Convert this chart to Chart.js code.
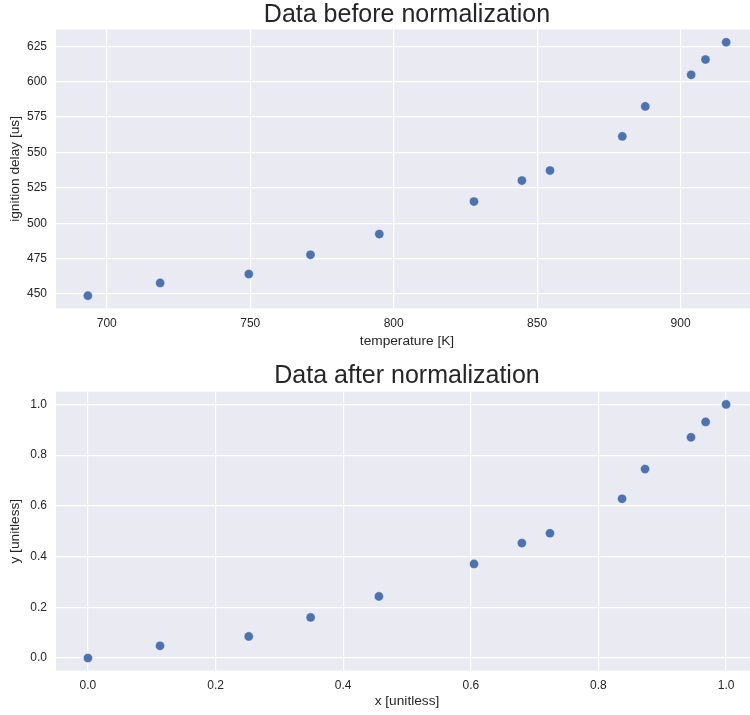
<!DOCTYPE html>
<html>
<head>
<meta charset="utf-8">
<script src="https://cdn.jsdelivr.net/npm/chart.js@4"></script>
<style>
  html, body { margin: 0; padding: 0; background: #ffffff; overflow: hidden; }
  #wrap { position: relative; width: 750px; height: 715px; overflow: hidden; }
  canvas { position: absolute; left: 0; display: block; }
  #rawChart { top: 0; }
  #normChart { top: 360px; }
</style>
</head>
<body>
<div id="wrap">
  <canvas id="rawChart" width="760" height="360"></canvas>
  <canvas id="normChart" width="760" height="355"></canvas>
</div>
<script>
// Measured ignition delay vs. temperature
const temperatureK = [693.4, 718.6, 749.5, 771.0, 795.0, 828.0, 844.7, 854.5, 879.7, 887.7, 903.7, 908.7, 915.9];
const ignitionDelayUs = [448.8, 457.8, 464.1, 477.7, 492.3, 515.3, 530.1, 537.2, 561.3, 582.5, 604.8, 615.6, 627.8];

// Same points after min-max scaling
const xUnitless = [0.0, 0.113, 0.252, 0.349, 0.456, 0.605, 0.680, 0.724, 0.837, 0.873, 0.945, 0.968, 1.0];
const yUnitless = [0.0, 0.048, 0.085, 0.160, 0.243, 0.371, 0.453, 0.492, 0.628, 0.745, 0.870, 0.931, 1.0];

// Tick values
const rawXTicks = [700, 750, 800, 850, 900];
const rawYTicks = [450, 475, 500, 525, 550, 575, 600, 625];
const normXTicks = [0.0, 0.2, 0.4, 0.6, 0.8, 1.0];
const normYTicks = [0.0, 0.2, 0.4, 0.6, 0.8, 1.0];

const FONT = '"Liberation Sans", Arial, sans-serif';
const TEXT = '#262626';
const POINT = '#4C72B0';

// Shade the plotting area like a seaborn "darkgrid" axes
const panelBackground = {
  id: 'panelBackground',
  beforeDraw(chart) {
    const { ctx, chartArea: a } = chart;
    ctx.save();
    ctx.fillStyle = '#EAEAF2';
    ctx.fillRect(a.left, a.top, a.right - a.left, a.bottom - a.top);
    ctx.restore();
  }
};

function makeChart(id, opts) {
  const pts = opts.xs.map((x, i) => ({ x: x, y: opts.ys[i] }));
  const fixedTicks = (vals) => (scale) => { scale.ticks = vals.map(v => ({ value: v })); };
  return new Chart(document.getElementById(id), {
    type: 'scatter',
    data: {
      datasets: [{
        data: pts,
        backgroundColor: POINT,
        borderColor: 'rgba(255,255,255,0.55)',
        borderWidth: 0.7,
        pointRadius: 4.6,
        pointHoverRadius: 4.6
      }]
    },
    plugins: [panelBackground],
    options: {
      responsive: false,
      animation: false,
      devicePixelRatio: 1,
      layout: { autoPadding: false, padding: { left: 0, right: 2, top: 0, bottom: 0 } },
      plugins: {
        legend: { display: false },
        tooltip: { enabled: false },
        title: {
          display: true,
          text: opts.title,
          color: TEXT,
          fullSize: false,
          font: { family: FONT, size: 25, weight: 'normal', lineHeight: 1.12 },
          padding: opts.titlePad
        }
      },
      scales: {
        x: {
          type: 'linear',
          min: opts.xMin, max: opts.xMax,
          afterBuildTicks: fixedTicks(opts.xTicks),
          afterFit: (s) => {
            s.height = opts.xAxisH;
            s.paddingLeft = 0;
            s.paddingRight = 0;
          },
          grid: { color: '#ffffff', lineWidth: 1.2, drawTicks: false },
          border: { display: false },
          ticks: {
            color: TEXT, padding: opts.xTickPad,
            font: { family: FONT, size: 12 },
            callback: opts.xFmt
          },
          title: {
            display: true, text: opts.xLabel, color: TEXT,
            font: { family: FONT, size: 13.7 },
            padding: { top: 0, bottom: opts.xTitlePad }
          }
        },
        y: {
          type: 'linear',
          min: opts.yMin, max: opts.yMax,
          afterBuildTicks: fixedTicks(opts.yTicks),
          afterFit: (s) => {
            s.width = 56;
            s.paddingTop = 0;
            s.paddingBottom = 0;
          },
          grid: { color: '#ffffff', lineWidth: 1.2, drawTicks: false },
          border: { display: false },
          ticks: {
            color: TEXT, padding: 9,
            font: { family: FONT, size: 12 },
            callback: opts.yFmt
          },
          title: {
            display: true, text: opts.yLabel, color: TEXT,
            font: { family: FONT, size: 13.7 },
            padding: { top: 7, bottom: 0 }
          }
        }
      }
    }
  });
}

makeChart('rawChart', {
  title: 'Data before normalization',
  titlePad: { top: 1.5, bottom: 0 },
  xs: temperatureK, ys: ignitionDelayUs,
  xMin: 682.3, xMax: 927.0, yMin: 439.9, yMax: 636.8,
  xTicks: rawXTicks, yTicks: rawYTicks,
  xFmt: (v) => String(v), yFmt: (v) => String(v),
  xLabel: 'temperature [K]', yLabel: 'ignition delay [us]',
  xAxisH: 51.7, xTickPad: 8, xTitlePad: 11
});

makeChart('normChart', {
  title: 'Data after normalization',
  titlePad: { top: 2.5, bottom: 1.2 },
  xs: xUnitless, ys: yUnitless,
  xMin: -0.05, xMax: 1.05, yMin: -0.05, yMax: 1.05,
  xTicks: normXTicks, yTicks: normYTicks,
  xFmt: (v) => Number(v).toFixed(1), yFmt: (v) => Number(v).toFixed(1),
  xLabel: 'x [unitless]', yLabel: 'y [unitless]',
  xAxisH: 44.3, xTickPad: 7.5, xTitlePad: 5.5
});
</script>
</body>
</html>
